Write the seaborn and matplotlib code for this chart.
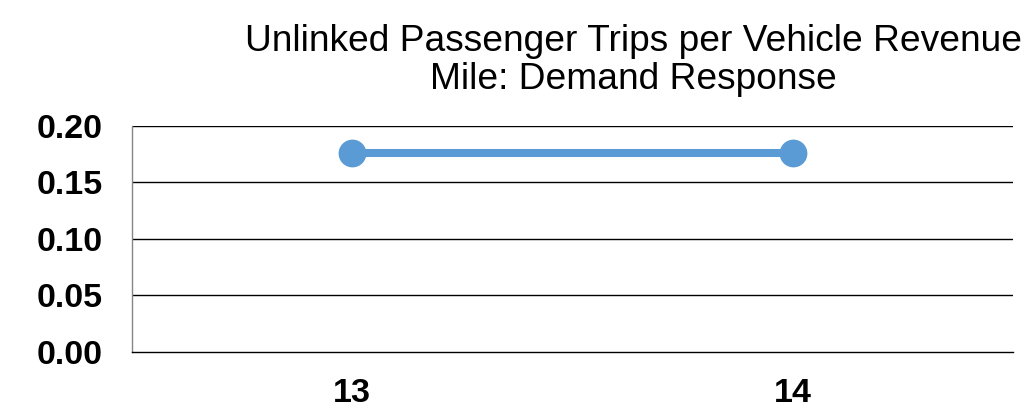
import matplotlib
matplotlib.use("Agg")
import matplotlib.pyplot as plt
import pandas as pd
import seaborn as sns

years = ["13", "14"]
trips_per_mile = [0.176, 0.176]
y_ticks = [0.00, 0.05, 0.10, 0.15, 0.20]

sns.set_theme(style="white")
plt.rcParams["font.family"] = ["Liberation Sans", "DejaVu Sans"]

df = pd.DataFrame({"year": years, "value": trips_per_mile})

fig = plt.figure(figsize=(10.25, 4.09), dpi=100)
ax = fig.add_axes([0.1288, 0.1394, 0.8595, 0.5526])

sns.lineplot(data=df, x="year", y="value", ax=ax, color="#5B9BD5",
             linewidth=5.8, marker="o", markersize=20, markeredgewidth=0)

ax.set_xlim(-0.5, 1.5)
ax.set_ylim(0, 0.2)
ax.set_yticks(y_ticks)
ax.set_yticklabels([f"{v:.2f}" for v in y_ticks], fontsize=24.5,
                   fontweight="bold", color="black")
ax.set_xticks(range(len(years)))
ax.set_xticklabels(years, fontsize=24.5, fontweight="bold", color="black")
ax.tick_params(axis="both", length=0)
ax.tick_params(axis="y", pad=21)
ax.tick_params(axis="x", pad=19)
ax.set_xlabel("")
ax.set_ylabel("")

for y in y_ticks[1:]:
    ax.axhline(y, color="black", linewidth=1.0, zorder=0)

for side in ["top", "right"]:
    ax.spines[side].set_visible(False)
ax.spines["left"].set_color("#868686")
ax.spines["left"].set_linewidth(1.0)
ax.spines["bottom"].set_color("black")
ax.spines["bottom"].set_linewidth(1.0)

fig.text(0.6176, 0.852, "Unlinked Passenger Trips per Vehicle Revenue\nMile: Demand Response",
         ha="center", va="center", fontsize=26.7, linespacing=1.14, color="black")

fig.savefig("out.png", dpi=100, facecolor="white")
